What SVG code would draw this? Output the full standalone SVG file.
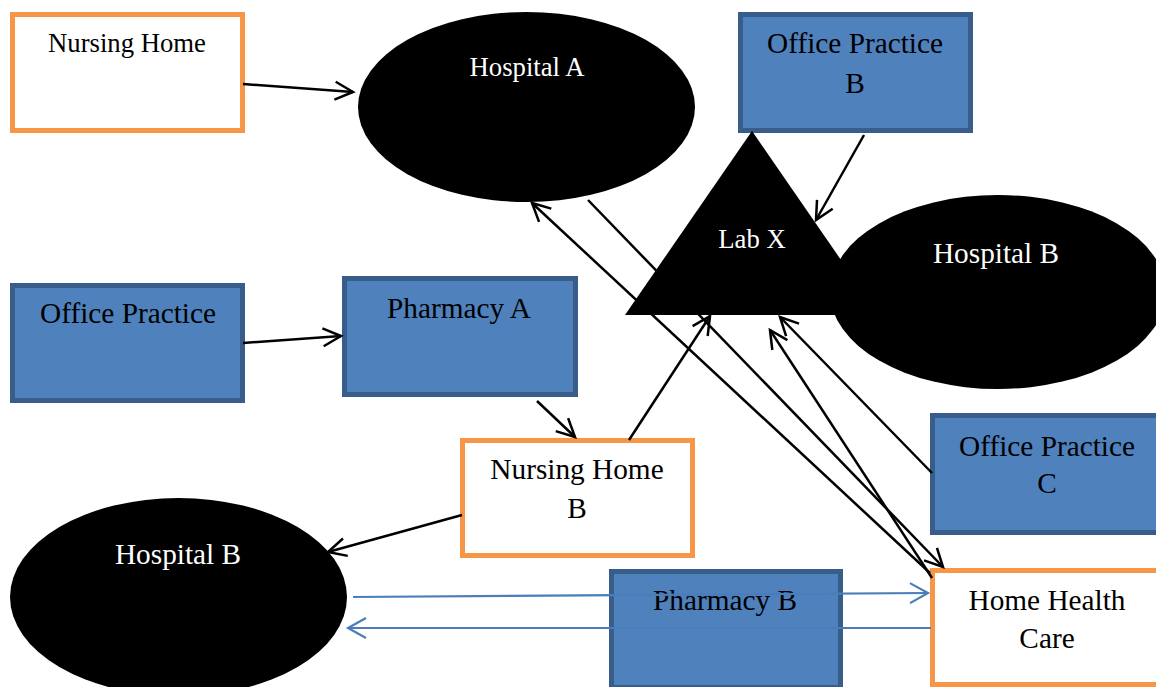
<svg xmlns="http://www.w3.org/2000/svg" width="1156" height="687" viewBox="0 0 1156 687">
<defs>
<style>
.box{fill:#4F81BD;stroke:#385D8A;stroke-width:5}
.obox{fill:#FFFFFF;stroke:#F79646;stroke-width:5}
.blk{fill:#000000}
.t{font-family:"Liberation Serif","Times New Roman",serif;font-size:29.3px;fill:#000000;text-anchor:middle}
.ts{font-size:26.7px}
.w{fill:#FFFFFF}
.c{fill:none;stroke:#000000;stroke-width:2.5}
.cb{fill:none;stroke:#4A7EBB;stroke-width:2.2}
</style>
<marker id="ah" markerUnits="userSpaceOnUse" markerWidth="24" markerHeight="24" refX="18" refY="9" orient="auto" overflow="visible">
<path d="M0,0 L18,9 L0,18" fill="none" stroke="#000000" stroke-width="2.5"/>
</marker>
<marker id="ahb" markerUnits="userSpaceOnUse" markerWidth="24" markerHeight="24" refX="18" refY="10" orient="auto" overflow="visible">
<path d="M0,0 L18,10 L0,20" fill="none" stroke="#4A7EBB" stroke-width="2.2"/>
</marker>
</defs>
<rect width="1156" height="687" fill="#FFFFFF"/>
<g id="nursing-home">
<rect class="obox" x="12.5" y="14.5" width="230" height="116"/>
<text class="t ts" x="127" y="52">Nursing Home</text>
</g>
<g id="hospital-a">
<ellipse class="blk" cx="526.5" cy="107" rx="168.5" ry="95"/>
<text class="t ts w" x="527" y="76">Hospital A</text>
</g>
<g id="office-practice-b">
<rect class="box" x="740.5" y="14.5" width="230" height="116"/>
<text class="t" x="855" y="53">Office Practice</text>
<text class="t" x="855" y="93">B</text>
</g>
<g id="hospital-b-upper">
<ellipse class="blk" cx="998" cy="292" rx="168" ry="97"/>
<text class="t w" x="996" y="263">Hospital B</text>
</g>
<g id="lab-x">
<polygon class="blk" points="752,131 625,315 879,315"/>
<text class="t ts w" x="752" y="248">Lab X</text>
</g>
<g id="office-practice">
<rect class="box" x="12.5" y="285.5" width="230" height="115"/>
<text class="t" x="128" y="323">Office Practice</text>
</g>
<g id="pharmacy-a">
<rect class="box" x="344.5" y="278.5" width="231" height="116"/>
<text class="t" x="459" y="318">Pharmacy A</text>
</g>
<g id="nursing-home-b">
<rect class="obox" x="462.5" y="440.5" width="230" height="115"/>
<text class="t" x="577" y="479">Nursing Home</text>
<text class="t" x="577" y="518">B</text>
</g>
<g id="office-practice-c">
<rect class="box" x="932.5" y="415.5" width="230" height="117"/>
<text class="t" x="1047" y="456">Office Practice</text>
<text class="t" x="1047" y="493">C</text>
</g>
<g id="hospital-b-lower">
<ellipse class="blk" cx="178.5" cy="597" rx="168.5" ry="99"/>
<text class="t w" x="178" y="564">Hospital B</text>
</g>
<g id="pharmacy-b">
<rect class="box" x="611.5" y="571.5" width="229" height="116"/>
<text class="t" x="725" y="610">Pharmacy B</text>
</g>
<g id="home-health-care">
<rect class="obox" x="932.5" y="570.5" width="230" height="114"/>
<text class="t" x="1047" y="610">Home Health</text>
<text class="t" x="1047" y="648">Care</text>
</g>
<g id="connectors">
<line class="c" x1="243" y1="84" x2="353" y2="92" marker-end="url(#ah)"/>
<line class="c" x1="864" y1="135" x2="816" y2="220" marker-end="url(#ah)"/>
<line class="c" x1="243" y1="343" x2="341" y2="336" marker-end="url(#ah)"/>
<line class="c" x1="537" y1="401" x2="575" y2="437" marker-end="url(#ah)"/>
<line class="c" x1="629" y1="440" x2="710" y2="316" marker-end="url(#ah)"/>
<line class="c" x1="462" y1="515" x2="328" y2="552" marker-end="url(#ah)"/>
<line class="c" x1="930" y1="573" x2="532" y2="203" marker-end="url(#ah)"/>
<line class="c" x1="588" y1="200" x2="943" y2="567" marker-end="url(#ah)"/>
<line class="c" x1="932" y1="578" x2="770" y2="330" marker-end="url(#ah)"/>
<line class="c" x1="932" y1="473" x2="780" y2="317" marker-end="url(#ah)"/>
<line class="cb" x1="353" y1="597" x2="928" y2="593" marker-end="url(#ahb)"/>
<line class="cb" x1="931" y1="628" x2="348" y2="628" marker-end="url(#ahb)"/>
</g>
</svg>
